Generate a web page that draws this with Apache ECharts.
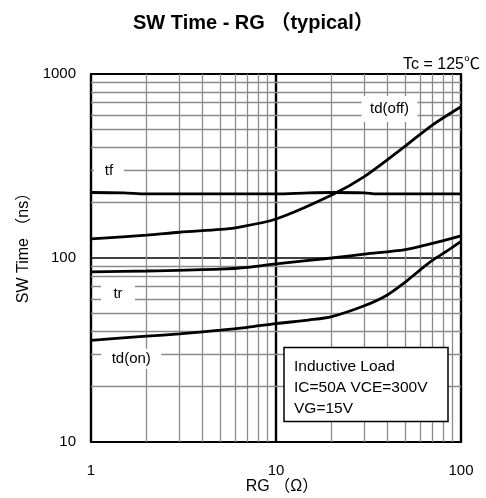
<!DOCTYPE html>
<html>
<head>
<meta charset="utf-8">
<script src="https://cdn.jsdelivr.net/npm/echarts@6/dist/echarts.min.js"></script>
<style>html,body{margin:0;padding:0;background:#fff}#c{width:486px;height:498px}</style>
</head>
<body>
<div id="c"></div>
<script>
// RG values (Ω) and switching times (ns)
const rgTf    = [1, 1.5, 2, 5, 10, 15, 20, 30, 35, 50, 100];
const tf      = [227, 226, 223, 223, 223, 226, 227, 226, 223, 223, 223];
const rgTdOff = [1, 2, 3, 5, 6, 10, 20, 30, 50, 70, 100];
const tdOff   = [127, 133, 138, 143, 146, 163, 220, 277, 406, 528, 664];
const rgTr    = [1, 2, 5, 7, 10, 20, 30, 50, 70, 100];
const tr      = [84, 85, 87, 89, 93, 100, 105, 111, 120, 132];
const rgTdOn  = [1, 2, 3, 5, 7, 10, 15, 20, 30, 40, 50, 60, 70, 85, 100];
const tdOn    = [35.7, 37.6, 38.7, 40.5, 42, 44, 46, 48, 55, 63, 74, 86, 97, 110, 123];
const xTicks  = [1, 10, 100];
const yTicks  = [10, 100, 1000];
const minorX  = [2,3,4,5,6,7,8,9,20,30,40,50,60,70,80,90];
const minorY  = [20,30,40,50,60,70,80,90,200,300,400,500,600,700,800,900];
const labelNames = ['tf', 'tr', 'td(on)', 'td(off)'];
const labelRG    = [1.25, 1.4, 1.65, 41.1];
const labelTime  = [298, 64, 28.3, 645];

const labelBox = {'tf': [30, 18], 'tr': [34, 22], 'td(on)': [60, 20], 'td(off)': [56, 26]};
const FONT = '"Liberation Sans", "Noto Sans CJK JP", sans-serif';
const zip = (xs, ys) => xs.map((x, i) => [x, ys[i]]);
const chart = echarts.init(document.getElementById('c'));
const curve = (name, xs, ys) => ({
  name, type: 'line', data: zip(xs, ys), showSymbol: false, smooth: 0.3,
  lineStyle: {color: '#000', width: 2.8}, z: 5, silent: true
});
chart.setOption({
  animation: false,
  backgroundColor: '#fff',
  title: {
    text: 'SW Time - RG （typical）', left: 128, top: 8,
    textStyle: {fontFamily: FONT, fontWeight: 'bold', fontSize: 20, color: '#000'}
  },
  grid: {left: 91, right: 25, top: 74, bottom: 56, show: true, borderColor: '#000', borderWidth: 2, backgroundColor: 'transparent'},
  xAxis: {
    type: 'log', logBase: 10, min: 1, max: 100,
    axisLine: {show: true, lineStyle: {color: '#000', width: 2}},
    axisTick: {show: false},
    axisLabel: {color: '#000', fontSize: 15, fontFamily: FONT, margin: 21,
      formatter: v => xTicks.includes(Math.round(v)) ? String(Math.round(v)) : ''},
    splitLine: {show: true, lineStyle: {color: '#000', width: 2.4}}
  },
  yAxis: {
    type: 'log', logBase: 10, min: 10, max: 1000,
    axisLine: {show: true, lineStyle: {color: '#000', width: 2}},
    axisTick: {show: false},
    axisLabel: {color: '#000', fontSize: 15, fontFamily: FONT, margin: 15,
      formatter: v => yTicks.includes(Math.round(v)) ? String(Math.round(v)) : ''},
    splitLine: {show: true, lineStyle: {color: '#000', width: 1.5}}
  },
  series: [
    {
      type: 'line', data: [], silent: true, z: 1,
      markLine: {
        z: 1, silent: true, symbol: ['none', 'none'], animation: false,
        label: {show: false},
        lineStyle: {color: '#8a8a8a', width: 1.3, type: 'solid'},
        data: minorX.map(v => ({xAxis: v})).concat(minorY.map(v => ({yAxis: v})))
      }
    },
    curve('tf', rgTf, tf),
    curve('td(off)', rgTdOff, tdOff),
    curve('tr', rgTr, tr),
    curve('td(on)', rgTdOn, tdOn),
    {
      type: 'scatter', symbol: 'rect', silent: true, z: 3,
      itemStyle: {color: '#fff', opacity: 1},
      data: labelNames.map((n, i) => ({name: n, value: [labelRG[i], labelTime[i]], symbolSize: labelBox[n]})),
      label: {
        show: true, position: 'inside', formatter: p => p.name,
        fontFamily: FONT, fontSize: 15, color: '#000'
      },
      emphasis: {disabled: true}
    }
  ],
  graphic: [
    {type: 'text', x: 480, y: 65, z: 10,
      style: {text: 'Tc = 125℃', font: '16px ' + FONT, fill: '#000', align: 'right', verticalAlign: 'middle'}},
    {type: 'text', x: 24, y: 244, rotation: Math.PI / 2, z: 10,
      style: {text: 'SW Time （ns）', font: '16px ' + FONT, fill: '#000', align: 'center', verticalAlign: 'middle'}},
    {type: 'text', x: 282, y: 487, z: 10,
      style: {text: 'RG （Ω）', font: '16px ' + FONT, fill: '#000', align: 'center', verticalAlign: 'middle'}},
    {type: 'rect', shape: {x: 284, y: 347.5, width: 164, height: 74}, z: 10,
      style: {fill: '#fff', stroke: '#000', lineWidth: 1.5}},
    {type: 'text', x: 294, y: 367, z: 11,
      style: {text: 'Inductive Load', font: '15.5px ' + FONT, fill: '#000', verticalAlign: 'middle'}},
    {type: 'text', x: 294, y: 388, z: 11,
      style: {text: 'IC=50A VCE=300V', font: '15.5px ' + FONT, fill: '#000', verticalAlign: 'middle'}},
    {type: 'text', x: 294, y: 409, z: 11,
      style: {text: 'VG=15V', font: '15.5px ' + FONT, fill: '#000', verticalAlign: 'middle'}}
  ]
});
</script>
</body>
</html>
